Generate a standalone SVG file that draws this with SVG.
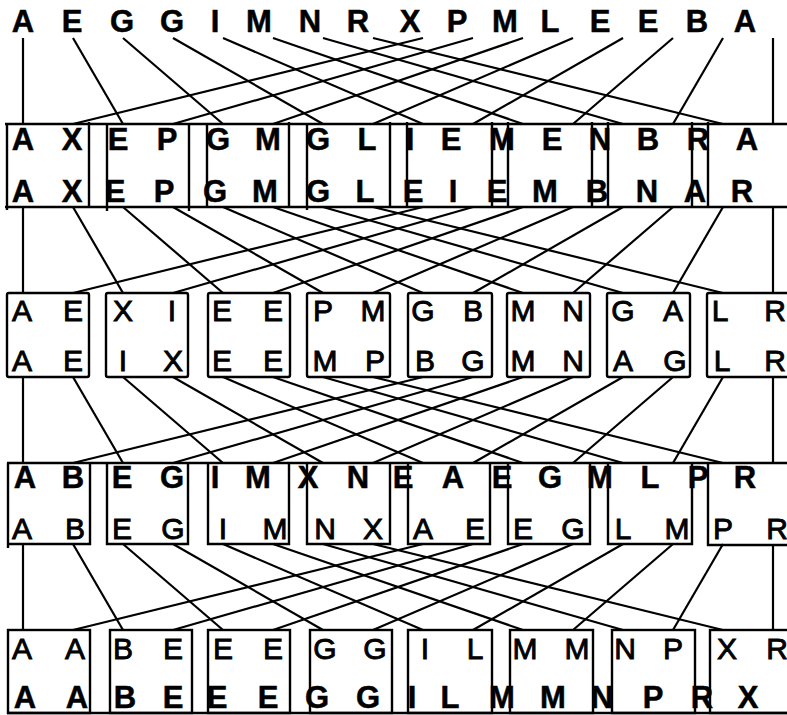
<svg xmlns="http://www.w3.org/2000/svg" xmlns:xlink="http://www.w3.org/1999/xlink" width="787" height="715" viewBox="0 0 787 715">
<style>
.b{font-family:"Liberation Sans",Arial,sans-serif;font-weight:bold;font-size:31px;fill:#000;stroke:#000;stroke-width:0.5;text-anchor:middle}
.r{font-family:"Liberation Sans",Arial,sans-serif;font-weight:normal;font-size:30px;fill:#000;stroke:#000;stroke-width:0.9;text-anchor:middle}
.ln{stroke:#000;stroke-width:2.2;fill:none;stroke-linecap:butt}
.bx{stroke:#000;stroke-width:2.4;fill:none}
</style>
<defs>
<g id="shuffle" class="ln">
<line x1="23" y1="0" x2="23" y2="86"/>
<line x1="73" y1="0" x2="123" y2="86"/>
<line x1="123" y1="0" x2="223" y2="86"/>
<line x1="173" y1="0" x2="323" y2="86"/>
<line x1="223" y1="0" x2="423" y2="86"/>
<line x1="273" y1="0" x2="523" y2="86"/>
<line x1="323" y1="0" x2="623" y2="86"/>
<line x1="373" y1="0" x2="723" y2="86"/>
<line x1="423" y1="0" x2="73" y2="86"/>
<line x1="473" y1="0" x2="173" y2="86"/>
<line x1="523" y1="0" x2="273" y2="86"/>
<line x1="573" y1="0" x2="373" y2="86"/>
<line x1="623" y1="0" x2="473" y2="86"/>
<line x1="673" y1="0" x2="573" y2="86"/>
<line x1="723" y1="0" x2="673" y2="86"/>
<line x1="773" y1="0" x2="773" y2="86"/>
</g>
</defs>

<g id="connectors">
<use xlink:href="#shuffle" href="#shuffle" transform="translate(0,38)"/>
<use xlink:href="#shuffle" href="#shuffle" transform="translate(0,207)"/>
<use xlink:href="#shuffle" href="#shuffle" transform="translate(0,377)"/>
<use xlink:href="#shuffle" href="#shuffle" transform="translate(0,544)"/>
</g>

<g id="input">
<text class="b" y="32"><tspan x="23">A</tspan><tspan x="72">E</tspan><tspan x="122">G</tspan><tspan x="172">G</tspan><tspan x="215">I</tspan><tspan x="259">M</tspan><tspan x="310">N</tspan><tspan x="358">R</tspan><tspan x="410">X</tspan><tspan x="457">P</tspan><tspan x="505">M</tspan><tspan x="550">L</tspan><tspan x="600">E</tspan><tspan x="648">E</tspan><tspan x="697">B</tspan><tspan x="745">A</tspan></text>
</g>

<g id="stage1">
<line class="bx" x1="5" y1="124" x2="787" y2="124"/>
<line class="bx" x1="5" y1="207" x2="787" y2="207"/>
<path class="bx" d="M7 124V210 M89 122V208 M107 124V211 M189 124V211 M207 124V208 M289 122V208 M307 124V210 M390 122V208 M407 122V208 M492 122V208 M508 122V208 M592 122V208 M608 122V208 M692 122V208 M708 122V208"/>
<text class="b" y="150"><tspan x="23">A</tspan><tspan x="72">X</tspan><tspan x="118">E</tspan><tspan x="167">P</tspan><tspan x="218">G</tspan><tspan x="268">M</tspan><tspan x="318">G</tspan><tspan x="367">L</tspan><tspan x="410">I</tspan><tspan x="451">E</tspan><tspan x="502">M</tspan><tspan x="552">E</tspan><tspan x="600">N</tspan><tspan x="648">B</tspan><tspan x="698">R</tspan><tspan x="747">A</tspan></text>
<text class="b" y="202"><tspan x="23">A</tspan><tspan x="72">X</tspan><tspan x="115">E</tspan><tspan x="164">P</tspan><tspan x="215">G</tspan><tspan x="265">M</tspan><tspan x="318">G</tspan><tspan x="365">L</tspan><tspan x="413">E</tspan><tspan x="453">I</tspan><tspan x="497">E</tspan><tspan x="545">M</tspan><tspan x="597">B</tspan><tspan x="647">N</tspan><tspan x="695">A</tspan><tspan x="742">R</tspan></text>
</g>

<g id="stage2">
<rect class="bx" x="7" y="293" width="82" height="84" rx="2"/>
<rect class="bx" x="106" y="293" width="82" height="84" rx="2"/>
<rect class="bx" x="208" y="293" width="82" height="84" rx="2"/>
<rect class="bx" x="307" y="293" width="83" height="84" rx="2"/>
<rect class="bx" x="408" y="293" width="84" height="84" rx="2"/>
<rect class="bx" x="507" y="293" width="83" height="84" rx="2"/>
<rect class="bx" x="607" y="293" width="83" height="84" rx="2"/>
<rect class="bx" x="707" y="293" width="100" height="84" rx="2"/>
<text class="r" y="321"><tspan x="22">A</tspan><tspan x="73">E</tspan><tspan x="123">X</tspan><tspan x="172">I</tspan><tspan x="222">E</tspan><tspan x="273">E</tspan><tspan x="323">P</tspan><tspan x="373">M</tspan><tspan x="423">G</tspan><tspan x="473">B</tspan><tspan x="523">M</tspan><tspan x="573">N</tspan><tspan x="623">G</tspan><tspan x="673">A</tspan><tspan x="720">L</tspan><tspan x="775">R</tspan></text>
<text class="r" y="371"><tspan x="22">A</tspan><tspan x="73">E</tspan><tspan x="123">I</tspan><tspan x="173">X</tspan><tspan x="222">E</tspan><tspan x="273">E</tspan><tspan x="325">M</tspan><tspan x="375">P</tspan><tspan x="425">B</tspan><tspan x="473">G</tspan><tspan x="523">M</tspan><tspan x="573">N</tspan><tspan x="623">A</tspan><tspan x="675">G</tspan><tspan x="722">L</tspan><tspan x="775">R</tspan></text>
</g>

<g id="stage3">
<line class="bx" x1="7" y1="463" x2="787" y2="463"/>
<path class="bx" d="M8 463V548 M8 544H90V463 M107 463V544H188V463 M208 463V544H289V463 M307 463V544H390V463 M408 463V544H490V463 M508 463V544H590V463 M608 463V544H692V463 M708 463V545H787"/>
<text class="b" y="488"><tspan x="25">A</tspan><tspan x="73">B</tspan><tspan x="122">E</tspan><tspan x="172">G</tspan><tspan x="215">I</tspan><tspan x="258">M</tspan><tspan x="308">X</tspan><tspan x="358">N</tspan><tspan x="403">E</tspan><tspan x="453">A</tspan><tspan x="502">E</tspan><tspan x="550">G</tspan><tspan x="600">M</tspan><tspan x="650">L</tspan><tspan x="698">P</tspan><tspan x="745">R</tspan></text>
<text class="r" y="539"><tspan x="22">A</tspan><tspan x="75">B</tspan><tspan x="122">E</tspan><tspan x="173">G</tspan><tspan x="223">I</tspan><tspan x="275">M</tspan><tspan x="325">N</tspan><tspan x="373">X</tspan><tspan x="423">A</tspan><tspan x="475">E</tspan><tspan x="523">E</tspan><tspan x="573">G</tspan><tspan x="623">L</tspan><tspan x="677">M</tspan><tspan x="723">P</tspan><tspan x="777">R</tspan></text>
</g>

<g id="stage4">
<line class="bx" x1="7" y1="713" x2="787" y2="713"/>
<rect class="bx" x="8" y="630" width="82" height="83"/>
<rect class="bx" x="110" y="630" width="82" height="83"/>
<rect class="bx" x="208" y="630" width="82" height="83"/>
<rect class="bx" x="310" y="630" width="82" height="83"/>
<rect class="bx" x="408" y="630" width="84" height="83"/>
<rect class="bx" x="510" y="630" width="83" height="83"/>
<rect class="bx" x="612" y="630" width="83" height="83"/>
<rect class="bx" x="710" y="630" width="100" height="83"/>
<text class="r" y="659"><tspan x="22">A</tspan><tspan x="75">A</tspan><tspan x="123">B</tspan><tspan x="173">E</tspan><tspan x="223">E</tspan><tspan x="273">E</tspan><tspan x="325">G</tspan><tspan x="375">G</tspan><tspan x="425">I</tspan><tspan x="475">L</tspan><tspan x="525">M</tspan><tspan x="577">M</tspan><tspan x="625">N</tspan><tspan x="673">P</tspan><tspan x="727">X</tspan><tspan x="777">R</tspan></text>
<text class="b" y="708"><tspan x="25">A</tspan><tspan x="77">A</tspan><tspan x="125">B</tspan><tspan x="173">E</tspan><tspan x="217">E</tspan><tspan x="268">E</tspan><tspan x="317">G</tspan><tspan x="368">G</tspan><tspan x="412">I</tspan><tspan x="450">L</tspan><tspan x="502">M</tspan><tspan x="553">M</tspan><tspan x="602">N</tspan><tspan x="653">P</tspan><tspan x="702">R</tspan><tspan x="748">X</tspan></text>
</g>
</svg>
